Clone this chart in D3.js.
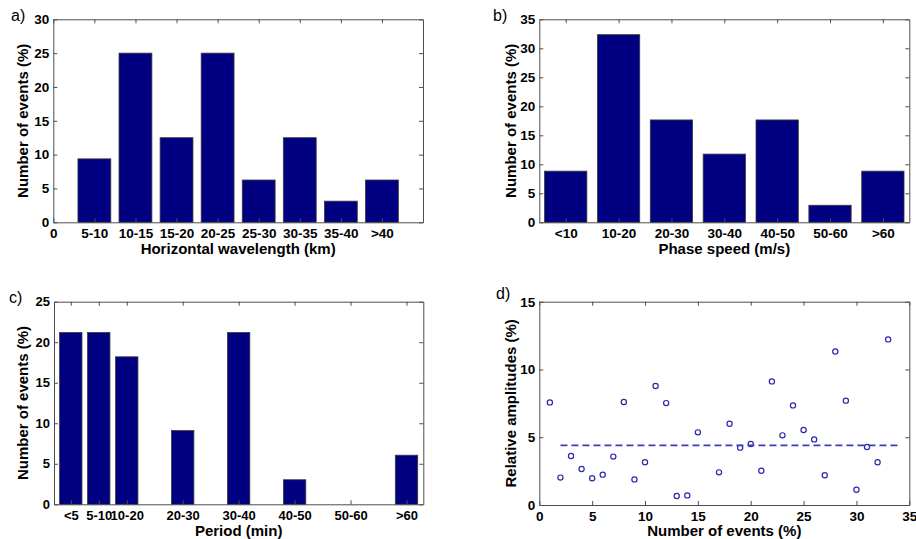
<!DOCTYPE html>
<html><head><meta charset="utf-8">
<script src="https://cdn.jsdelivr.net/npm/d3@7"></script>
<style>
body{margin:0;background:#fff;}
text{font-family:"Liberation Sans",Arial,sans-serif;}
</style></head>
<body><svg id="c" width="916" height="539"></svg>
<script>
// Panel a
const catsA = ["5-10","10-15","15-20","20-25","25-30","30-35","35-40",">40"];
const valsA = [9.375,25,12.5,25,6.25,12.5,3.125,6.25];
// Panel b
const catsB = ["<10","10-20","20-30","30-40","40-50","50-60",">60"];
const valsB = [8.82,32.35,17.65,11.76,17.65,2.94,8.82];
// Panel c
const catsC = ["<5","5-10","10-20","20-30","30-40","40-50","50-60",">60"];
const posC = [1,2,3,5,7,9,11,13];
const valsC = [21.2,21.2,18.2,9.1,21.2,3.03,0,6.06];
// Panel d
const dX = [1,2,3,4,5,6,7,8,9,10,11,12,13,14,15,17,18,19,20,21,22,23,24,25,26,27,28,29,30,31,32,33];
const dY = [7.57,2.02,3.61,2.66,1.97,2.24,3.57,7.6,1.89,3.15,8.78,7.52,0.66,0.71,5.36,2.41,6.0,4.23,4.5,2.53,9.12,5.14,7.35,5.53,4.84,2.19,11.33,7.7,1.13,4.28,3.15,12.22];
const meanLine = {x0:2, x1:34, y:4.4};

const svg = d3.select("#c");
const AX = "#4d4d4d", BAR = "#000080", EDGE = "#3a3a3a", PT = "#2a2aa8";

function panel(o){
  const g = svg.append("g");
  const x = d3.scaleLinear().domain(o.xdom).range([o.x0,o.x1]);
  const y = d3.scaleLinear().domain(o.ydom).range([o.y1,o.y0]);
  if(o.bars){
    const w = (x(1)-x(0))*0.8;
    g.selectAll("rect.b").data(o.bars).enter().append("rect")
      .attr("x",d=>x(d.p)-w/2).attr("width",w)
      .attr("y",d=>y(d.v)).attr("height",d=>y(0)-y(d.v))
      .attr("fill",BAR).attr("stroke",d=>d.v>0?EDGE:"none").attr("stroke-width",0.8);
  }
  if(o.pts){
    g.selectAll("circle").data(o.pts).enter().append("circle")
      .attr("cx",d=>x(d[0])).attr("cy",d=>y(d[1])).attr("r",2.6)
      .attr("fill","none").attr("stroke",PT).attr("stroke-width",1.2);
  }
  if(o.line){
    g.append("line").attr("x1",x(o.line.x0)).attr("x2",x(o.line.x1))
      .attr("y1",y(o.line.y)).attr("y2",y(o.line.y))
      .attr("stroke","#3d3db8").attr("stroke-width",1.6).attr("stroke-dasharray","7,4");
  }
  const tl = 4;
  const bottom = d3.axisBottom(x).tickValues(o.xticks).tickFormat((d,i)=>o.xlabels? o.xlabels[i] : d)
    .tickSizeInner(-tl).tickSizeOuter(0).tickPadding(6);
  const top = d3.axisTop(x).tickValues(o.xticks).tickFormat("").tickSizeInner(-tl).tickSizeOuter(0);
  const left = d3.axisLeft(y).tickValues(o.yticks).tickSizeInner(-tl).tickSizeOuter(0).tickPadding(4);
  const right = d3.axisRight(y).tickValues(o.yticks).tickFormat("").tickSizeInner(-tl).tickSizeOuter(0);
  const gb = g.append("g").attr("transform",`translate(0,${o.y1})`).call(bottom);
  const gt = g.append("g").attr("transform",`translate(0,${o.y0})`).call(top);
  const gl = g.append("g").attr("transform",`translate(${o.x0},0)`).call(left);
  const gr = g.append("g").attr("transform",`translate(${o.x1},0)`).call(right);
  [gb,gt,gl,gr].forEach(a=>{
    a.selectAll("path").attr("stroke",AX).attr("stroke-width",1);
    a.selectAll("line").attr("stroke",AX).attr("stroke-width",1);
    a.selectAll("text").attr("fill","#000").style("font-family","'Liberation Sans',Arial,sans-serif")
      .style("font-size",(o.tfs||13.5)+"px").style("font-weight","bold");
  });
  g.append("text").attr("x",(o.x0+o.x1)/2).attr("y",o.xtY).attr("text-anchor","middle")
    .style("font-size","15px").style("font-weight","bold").text(o.xtitle);
  g.append("text").attr("transform",`translate(${o.ytX},${(o.y0+o.y1)/2}) rotate(-90)`)
    .attr("text-anchor","middle").attr("dy","0.35em")
    .style("font-size","15px").style("font-weight","bold").text(o.ytitle);
  g.append("text").attr("x",o.lx).attr("y",o.ly).style("font-size","16px").text(o.label);
}

panel({x0:53.3,x1:423,y0:19.3,y1:222.3,xdom:[0,9],ydom:[0,30],
  bars:valsA.map((v,i)=>({p:i+1,v})),
  xticks:d3.range(0,9),xlabels:["0"].concat(catsA),yticks:[0,5,10,15,20,25,30],
  xtitle:"Horizontal wavelength (km)",ytitle:"Number of events (%)",xtY:254,ytX:23,
  label:"a)",lx:11,ly:21});

panel({x0:539.3,x1:909.3,y0:19.3,y1:222.3,xdom:[0.5,7.5],ydom:[0,35],
  bars:valsB.map((v,i)=>({p:i+1,v})),
  xticks:d3.range(1,8),xlabels:catsB,yticks:[0,5,10,15,20,25,30,35],
  xtitle:"Phase speed (m/s)",ytitle:"Number of events (%)",xtY:254,ytX:511,
  label:"b)",lx:493,ly:21});

panel({x0:54,x1:423.3,y0:301.7,y1:504.3,xdom:[0.4,13.6],ydom:[0,25],
  bars:valsC.map((v,i)=>({p:posC[i],v})),tfs:13,
  xticks:posC,xlabels:catsC,yticks:[0,5,10,15,20,25],
  xtitle:"Period (min)",ytitle:"Number of events (%)",xtY:536,ytX:23,
  label:"c)",lx:9,ly:303});

panel({x0:539.3,x1:909.3,y0:301.7,y1:505,xdom:[0,35],ydom:[0,15],
  pts:dX.map((x,i)=>[x,dY[i]]),line:meanLine,
  xticks:d3.range(0,36,5),yticks:[0,5,10,15],
  xtitle:"Number of events (%)",ytitle:"Relative amplitudes (%)",xtY:536,ytX:511,
  label:"d)",lx:496,ly:299});
</script></body></html>
